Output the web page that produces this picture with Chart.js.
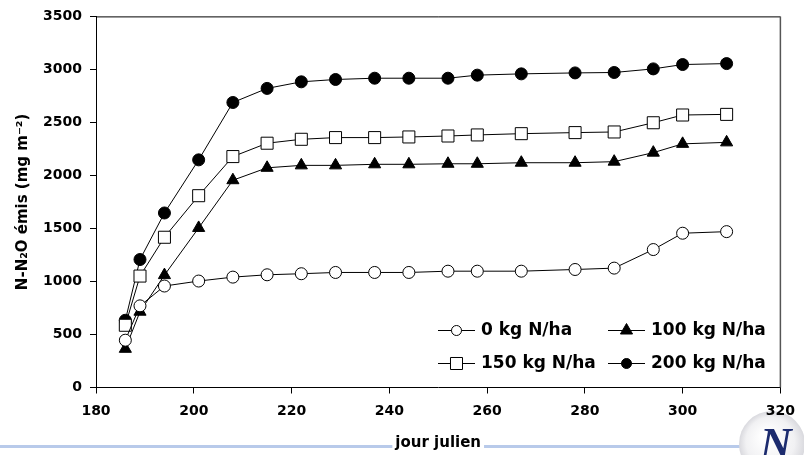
<!DOCTYPE html>
<html>
<head>
<meta charset="utf-8">
<script src="https://cdn.jsdelivr.net/npm/chart.js@4.4.0/dist/chart.umd.min.js"></script>
<style>
  html, body { margin: 0; padding: 0; background: #fff; }
</style>
</head>
<body>
<canvas id="n2oChart" width="804" height="455"></canvas>
<script>
// jour julien of each sampling date
const days = [186, 189, 194, 201, 208, 215, 222, 229, 237, 244, 252, 258, 267, 278, 286, 294, 300, 309];

// cumulative N-N2O (mg m-2)
const n0 = [446, 770, 957, 1004, 1041, 1063, 1073, 1085, 1085, 1085, 1097, 1097, 1097, 1113, 1126, 1301, 1455, 1470];
const n100 = [365, 715, 1060, 1505, 1955, 2072, 2095, 2095, 2105, 2105, 2110, 2110, 2120, 2120, 2130, 2215, 2298, 2312];
const n150 = [587, 1051, 1417, 1809, 2178, 2304, 2341, 2357, 2357, 2363, 2372, 2382, 2394, 2404, 2410, 2497, 2570, 2576];
const n200 = [634, 1207, 1646, 2147, 2688, 2821, 2883, 2905, 2917, 2917, 2917, 2946, 2958, 2967, 2971, 3005, 3046, 3055];

const labels = ["0 kg N/ha", "100 kg N/ha", "150 kg N/ha", "200 kg N/ha"];
const xTicks = [180, 200, 220, 240, 260, 280, 300, 320];
const yTicks = [0, 500, 1000, 1500, 2000, 2500, 3000, 3500];

const FONT = "'DejaVu Sans', sans-serif";

function toPoints(values) {
  return values.map((v, i) => ({ x: days[i], y: v }));
}

const markers = [
  { style: "circle", radius: 6, fill: "#ffffff" },
  { style: "triangle", radius: 7, fill: "#000000" },
  { style: "rect", radius: 8.5, fill: "#ffffff" },
  { style: "circle", radius: 6, fill: "#000000" },
];

function makeDataset(i, values) {
  return {
    label: labels[i],
    data: toPoints(values),
    borderColor: "#000",
    borderWidth: 1,
    backgroundColor: markers[i].fill,
    pointStyle: markers[i].style,
    pointRadius: markers[i].radius,
    pointBackgroundColor: markers[i].fill,
    pointBorderColor: "#000",
    pointBorderWidth: 1,
    tension: 0,
  };
}

// draw a marker the same way for the legend
function drawMarker(ctx, m, x, y) {
  ctx.save();
  ctx.fillStyle = m.fill;
  ctx.strokeStyle = "#000";
  ctx.lineWidth = 1;
  ctx.beginPath();
  if (m.style === "circle") {
    ctx.arc(x, y, m.radius - 1, 0, Math.PI * 2);
  } else if (m.style === "rect") {
    const s = m.radius * Math.SQRT1_2;
    ctx.rect(x - s, y - s, 2 * s, 2 * s);
  } else {
    const r = m.radius;
    ctx.moveTo(x, y - r);
    ctx.lineTo(x + r * 0.866, y + r / 2);
    ctx.lineTo(x - r * 0.866, y + r / 2);
    ctx.closePath();
  }
  ctx.fill();
  ctx.stroke();
  ctx.restore();
}

const backdrop = {
  id: "backdrop",
  beforeDraw(chart) {
    const ctx = chart.ctx;
    ctx.save();
    ctx.fillStyle = "#fff";
    ctx.fillRect(0, 0, chart.width, chart.height);
    // slide rule under the chart
    ctx.fillStyle = "#b8caea";
    ctx.fillRect(0, 445, 742, 3);
    // the axis title sits on a white box over the rule
    ctx.font = "bold 15px " + FONT;
    const w = ctx.measureText("jour julien").width;
    const cx = (chart.chartArea.left + chart.chartArea.right) / 2;
    ctx.fillStyle = "#fff";
    ctx.fillRect(cx - w / 2 - 3, 440, w + 6, 12);

    // logo in the corner of the slide, behind the last tick label
    const g = ctx.createRadialGradient(766, 436, 4, 772, 444, 33);
    g.addColorStop(0, "#ffffff");
    g.addColorStop(0.7, "#f1f1f3");
    g.addColorStop(1, "#d9d9de");
    ctx.fillStyle = g;
    ctx.beginPath();
    ctx.arc(772, 444, 33, 0, Math.PI * 2);
    ctx.fill();
    ctx.font = "italic bold 44px 'Liberation Serif', serif";
    ctx.textAlign = "center";
    ctx.textBaseline = "alphabetic";
    ctx.fillStyle = "#1c2b6e";
    ctx.fillText("N", 776, 458);
    ctx.restore();
  },
};

const frameAndLegend = {
  id: "frameAndLegend",
  afterDraw(chart) {
    const ctx = chart.ctx;
    const a = chart.chartArea;
    ctx.save();
    // top and right frame
    ctx.strokeStyle = "#000";
    ctx.lineWidth = 1;
    ctx.beginPath();
    ctx.moveTo(a.left, a.top + 0.5);
    ctx.lineTo(a.right, a.top + 0.5);
    ctx.stroke();
    ctx.strokeStyle = "#555";
    ctx.lineWidth = 1.5;
    ctx.beginPath();
    ctx.moveTo(a.right, a.top);
    ctx.lineTo(a.right, a.bottom);
    ctx.stroke();

    // legend, two rows of two
    const cols = [438, 608];
    const rows = [330, 363];
    ctx.font = "bold 17px " + FONT;
    ctx.textBaseline = "middle";
    labels.forEach((lab, i) => {
      const x = cols[i % 2];
      const y = rows[Math.floor(i / 2)];
      ctx.strokeStyle = "#000";
      ctx.lineWidth = 1;
      ctx.beginPath();
      ctx.moveTo(x, y + 0.5);
      ctx.lineTo(x + 37, y + 0.5);
      ctx.stroke();
      drawMarker(ctx, markers[i], x + 18.5, y + 0.5);
      ctx.fillStyle = "#000";
      ctx.fillText(lab, x + 43, y + 1);
    });
    ctx.restore();
  },
};

const ctx = document.getElementById("n2oChart").getContext("2d");

const tickFont = { family: FONT, size: 14, weight: "bold" };

const chart = new Chart(ctx, {
  type: "line",
  data: {
    datasets: [
      makeDataset(0, n0),
      makeDataset(1, n100),
      makeDataset(2, n150),
      makeDataset(3, n200),
    ],
  },
  options: {
    responsive: false,
    animation: false,
    layout: {
      padding: { top: 15, right: 16, bottom: 0, left: 0 },
    },
    plugins: {
      legend: { display: false },
      tooltip: { enabled: false },
    },
    scales: {
      x: {
        type: "linear",
        min: 180,
        max: 320,
        afterBuildTicks: (scale) => {
          scale.ticks = xTicks.map((v) => ({ value: v }));
        },
        afterFit: (scale) => {
          scale.height = 67.5;
        },
        grid: {
          drawOnChartArea: false,
          drawTicks: true,
          tickLength: 6,
          color: "#000",
        },
        border: { display: true, color: "#000", width: 1 },
        ticks: {
          color: "#000",
          padding: 9,
          maxRotation: 0,
          autoSkip: false,
          font: tickFont,
          callback: (v) => String(v),
        },
        title: {
          display: true,
          text: "jour julien",
          color: "#000",
          padding: { top: 0, bottom: 3 },
          font: { family: FONT, size: 15, weight: "bold" },
        },
      },
      y: {
        type: "linear",
        min: 0,
        max: 3500,
        afterBuildTicks: (scale) => {
          scale.ticks = yTicks.map((v) => ({ value: v }));
        },
        afterFit: (scale) => {
          scale.width = 96;
        },
        grid: {
          drawOnChartArea: false,
          drawTicks: true,
          tickLength: 6,
          color: "#000",
        },
        border: { display: true, color: "#000", width: 1 },
        ticks: {
          color: "#000",
          padding: 8,
          font: tickFont,
          callback: (v) => String(v),
        },
        title: {
          display: true,
          text: "N-N\u2082O émis (mg m\u207B\u00B2)",
          color: "#000",
          padding: { top: 14, bottom: 0 },
          font: { family: FONT, size: 15, weight: "bold" },
        },
      },
    },
  },
  plugins: [backdrop, frameAndLegend],
});
</script>
</body>
</html>
